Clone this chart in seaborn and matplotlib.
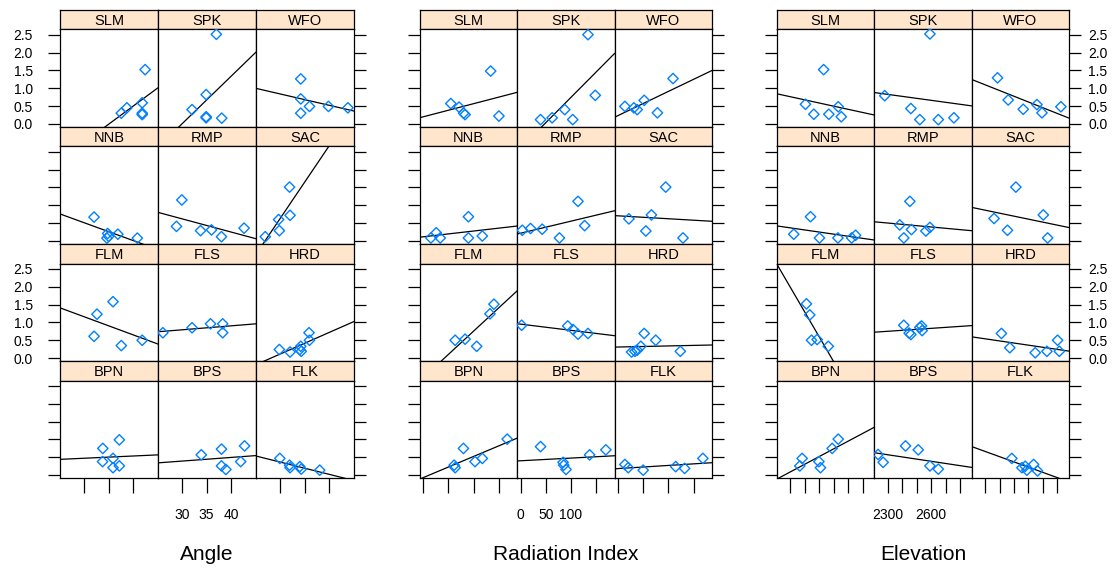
import matplotlib
matplotlib.use("Agg")
import matplotlib.pyplot as plt
import numpy as np
import pandas as pd
import seaborn as sns

# ---------------- data ----------------
SITE_GRID = [["SLM", "SPK", "WFO"],
             ["NNB", "RMP", "SAC"],
             ["FLM", "FLS", "HRD"],
             ["BPN", "BPS", "FLK"]]

ANGLE_X = {
    "SLM": [37.6, 38.75, 41.9, 41.9, 41.9, 42.5],
    "SPK": [37.0, 32.0, 34.9, 34.9, 34.9, 38.1],
    "WFO": [34.2, 34.2, 34.2, 36.0, 39.9, 43.9],
    "NNB": [32.0, 34.8, 34.65, 35.0, 36.9, 40.9],
    "RMP": [28.8, 29.9, 33.75, 36.0, 38.05, 42.7],
    "SAC": [26.9, 29.65, 29.8, 31.9, 32.0],
    "FLM": [32.6, 32.0, 35.9, 37.6, 41.9],
    "FLS": [26.0, 32.0, 35.8, 38.3, 38.3],
    "HRD": [29.8, 32.0, 34.0, 34.2, 34.3, 35.9, 36.0],
    "BPN": [33.8, 33.75, 35.9, 35.9, 37.2, 37.2],
    "BPS": [33.9, 38.05, 38.05, 38.96, 42.0, 42.8],
    "FLK": [29.9, 31.9, 32.0, 34.0, 34.3, 38.1],
}
ANGLE_Y = {
    "SLM": [0.30, 0.45, 0.59, 0.30, 0.26, 1.52],
    "SPK": [2.51, 0.40, 0.82, 0.20, 0.17, 0.16],
    "WFO": [1.26, 0.70, 0.30, 0.49, 0.49, 0.45],
    "NNB": [0.67, 0.21, 0.08, 0.13, 0.19, 0.08],
    "RMP": [0.41, 1.15, 0.29, 0.31, 0.12, 0.36],
    "SAC": [0.12, 0.60, 0.29, 1.51, 0.72],
    "FLM": [1.23, 0.61, 1.58, 0.35, 0.50],
    "FLS": [0.71, 0.85, 0.96, 0.96, 0.71],
    "HRD": [0.24, 0.17, 0.24, 0.33, 0.19, 0.71, 0.50],
    "BPN": [0.75, 0.38, 0.47, 0.21, 0.99, 0.26],
    "BPS": [0.57, 0.73, 0.26, 0.16, 0.38, 0.82],
    "FLK": [0.47, 0.28, 0.21, 0.24, 0.17, 0.14],
}

RAD_X = {
    "SLM": [54.6, 71, 82.9, 133.6, 150, 80],
    "SPK": [39.5, 62.5, 87.5, 103.3, 133.6, 148],
    "WFO": [13.8, 31.6, 38.2, 52, 78.3, 109.2],
    "NNB": [15.1, 25.7, 33.6, 89.5, 89.5, 117],
    "RMP": [3.3, 19.7, 42.8, 77, 113.8, 127],
    "SAC": [21.7, 55.3, 66.4, 94.7, 129],
    "FLM": [63.2, 82.9, 105.9, 132.2, 140.1],
    "FLS": [2, 93.4, 104, 113.8, 133.6],
    "HRD": [27, 33.6, 38.2, 45.4, 52, 75, 123.7],
    "BPN": [61.2, 63.2, 79.6, 102.6, 117.1, 166.4],
    "BPS": [39.5, 84.2, 85.5, 90.1, 136.8, 169],
    "FLK": [13.8, 20.4, 50, 114.5, 132.2, 168.4],
}
RAD_Y = {
    "SLM": [0.57, 0.47, 0.26, 1.48, 0.22, 0.30],
    "SPK": [0.12, 0.17, 0.40, 0.12, 2.50, 0.80],
    "WFO": [0.49, 0.45, 0.40, 0.66, 0.31, 1.27],
    "NNB": [0.085, 0.23, 0.085, 0.68, 0.085, 0.14],
    "RMP": [0.30, 0.35, 0.33, 0.085, 1.11, 0.43],
    "SAC": [0.62, 0.28, 0.73, 1.51, 0.085],
    "FLM": [0.50, 0.53, 0.33, 1.24, 1.51],
    "FLS": [0.92, 0.90, 0.80, 0.67, 0.69],
    "HRD": [0.17, 0.19, 0.22, 0.33, 0.69, 0.50, 0.19],
    "BPN": [0.28, 0.21, 0.75, 0.38, 0.47, 1.01],
    "BPS": [0.80, 0.36, 0.28, 0.16, 0.57, 0.71],
    "FLK": [0.30, 0.21, 0.14, 0.24, 0.19, 0.47],
}

ELEV_X = {
    "SLM": [2404, 2462, 2530, 2566, 2631, 2652],
    "SPK": [2279, 2460, 2522, 2592, 2650, 2758],
    "WFO": [2386, 2460, 2564, 2659, 2694, 2825],
    "NNB": [2323, 2439, 2501, 2629, 2724, 2751],
    "RMP": [2383, 2411, 2453, 2464, 2564, 2592],
    "SAC": [2362, 2455, 2513, 2703, 2733],
    "FLM": [2411, 2434, 2446, 2485, 2562],
    "FLS": [2411, 2448, 2460, 2522, 2534, 2538],
    "HRD": [2413, 2471, 2647, 2728, 2802, 2814],
    "BPN": [2365, 2381, 2497, 2508, 2589, 2631],
    "BPS": [2233, 2268, 2423, 2511, 2592, 2650],
    "FLK": [2485, 2555, 2578, 2589, 2636, 2663],
}
ELEV_Y = {
    "SLM": [0.55, 0.27, 1.52, 0.27, 0.48, 0.20],
    "SPK": [0.79, 0.43, 0.12, 2.52, 0.12, 0.17],
    "WFO": [1.29, 0.67, 0.41, 0.54, 0.31, 0.48],
    "NNB": [0.19, 0.68, 0.085, 0.085, 0.085, 0.16],
    "RMP": [0.45, 0.085, 1.11, 0.32, 0.28, 0.38],
    "SAC": [0.63, 0.30, 1.51, 0.73, 0.085],
    "FLM": [1.52, 1.21, 0.50, 0.52, 0.33],
    "FLS": [0.92, 0.70, 0.66, 0.86, 0.90, 0.77],
    "HRD": [0.69, 0.29, 0.15, 0.19, 0.50, 0.19],
    "BPN": [0.26, 0.47, 0.38, 0.21, 0.75, 1.01],
    "BPS": [0.58, 0.36, 0.82, 0.71, 0.26, 0.17],
    "FLK": [0.47, 0.21, 0.25, 0.14, 0.30, 0.12],
}

VAR_LABELS = ["Angle", "Radiation Index", "Elevation"]
Y_TICKS = [0.0, 0.5, 1.0, 1.5, 2.0, 2.5]
Y_TICK_LABELS = ["0.0", "0.5", "1.0", "1.5", "2.0", "2.5"]
X_TICKS = [[30, 35, 40],
           [0, 50, 100, 150],
           [2300, 2400, 2500, 2600, 2700, 2800]]
X_TICK_LABELS = [["30", "35", "40"],
                 ["0", "50", "100", ""],
                 ["2300", "", "", "2600", "", ""]]

# ---------------- build long table ----------------
rows = []
for var, xs_d, ys_d in zip(VAR_LABELS, [ANGLE_X, RAD_X, ELEV_X], [ANGLE_Y, RAD_Y, ELEV_Y]):
    for site in xs_d:
        for xv, yv in zip(xs_d[site], ys_d[site]):
            rows.append({"var": var, "site": site, "x": xv, "y": yv})
df = pd.DataFrame(rows)

# ---------------- style ----------------
sns.set_style("white")
plt.rcParams["font.family"] = ["Liberation Sans", "DejaVu Sans"]
plt.rcParams["text.color"] = "black"
plt.rcParams["xtick.color"] = "black"
plt.rcParams["ytick.color"] = "black"
plt.rcParams["xtick.labelcolor"] = "black"
plt.rcParams["ytick.labelcolor"] = "black"

W, H = 1120, 568
fig = plt.figure(figsize=(W / 100, H / 100), dpi=100)


def rect(x0, y0, w, h):
    return [x0 / W, 1 - (y0 + h) / H, w / W, h / H]


GROUP_LEFT = [60, 420, 777]
GROUP_WIDTH = [294, 292, 292]
XLIMS = [(25.0, 45.15), (-6.5, 186.5), (2207, 2881)]
YLIM = (-0.09, 2.65)
TOP0, PITCH, STRIP_H, PANEL_H = 10.0, 117.1, 19.3, 97.8
STRIP_COLOR = "#ffe5cc"
POINT_COLOR = "#0080ff"

for g, var in enumerate(VAR_LABELS):
    pw = GROUP_WIDTH[g] / 3.0
    for r in range(4):
        for c in range(3):
            site = SITE_GRID[r][c]
            x0 = GROUP_LEFT[g] + c * pw
            ytop = TOP0 + r * PITCH
            # strip
            sax = fig.add_axes(rect(x0, ytop, pw, STRIP_H))
            sax.set_facecolor(STRIP_COLOR)
            sax.set_xticks([])
            sax.set_yticks([])
            for sp in sax.spines.values():
                sp.set_color("black")
                sp.set_linewidth(0.9)
            sax.text(0.5, 0.45, site, ha="center", va="center", color="black",
                     fontsize=10.5, transform=sax.transAxes)
            # panel
            ax = fig.add_axes(rect(x0, ytop + STRIP_H, pw, PANEL_H))
            ax.set_xlim(*XLIMS[g])
            ax.set_ylim(*YLIM)
            sub = df[(df["var"] == var) & (df["site"] == site)]
            sns.regplot(data=sub, x="x", y="y", ax=ax, ci=None, truncate=False,
                        marker="D",
                        scatter_kws=dict(s=28, color=POINT_COLOR, facecolors="none",
                                         edgecolors=POINT_COLOR, linewidths=1.0,
                                         alpha=1, zorder=3),
                        line_kws=dict(color="black", lw=0.9, zorder=2))
            ax.set_xlim(*XLIMS[g])
            ax.set_ylim(*YLIM)
            ax.set_xlabel("")
            ax.set_ylabel("")
            ax.grid(False)
            for sp in ax.spines.values():
                sp.set_color("black")
                sp.set_linewidth(0.9)

            # y ticks
            ax.set_yticks(Y_TICKS)
            ax.set_yticklabels(Y_TICK_LABELS)
            if c == 0:
                ax.tick_params(axis="y", left=True, right=False, direction="out",
                               length=8.5, width=0.9, color="black", labelcolor="black",
                               labelleft=(g == 0 and r in (0, 2)), labelright=False,
                               pad=11, labelsize=10)
            elif c == 2:
                ax.tick_params(axis="y", left=False, right=True, direction="out",
                               length=8.5, width=0.9, color="black", labelcolor="black",
                               labelleft=False, labelright=(g == 2 and r in (0, 2)),
                               pad=5.5, labelsize=10)
            else:
                ax.tick_params(axis="y", left=False, right=False,
                               labelleft=False, labelright=False)

            # x ticks
            ax.set_xticks(X_TICKS[g])
            ax.set_xticklabels(X_TICK_LABELS[g])
            if r == 3:
                ax.tick_params(axis="x", bottom=True, top=False, direction="out",
                               length=11, width=0.9, color="black", labelcolor="black",
                               labelbottom=(c == 1), labeltop=False,
                               pad=10, labelsize=10)
            else:
                ax.tick_params(axis="x", bottom=False, top=False,
                               labelbottom=False, labeltop=False)

    cx = GROUP_LEFT[g] + GROUP_WIDTH[g] / 2.0
    fig.text(cx / W, 1 - 555 / H, var, ha="center", va="center", fontsize=15,
             color="black")

fig.savefig("out.png", dpi=100, facecolor="white")
